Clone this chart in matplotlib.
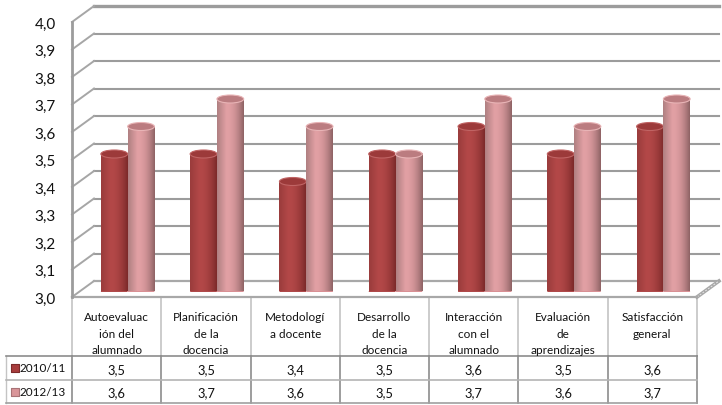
#!/usr/bin/env python3
# -*- coding: utf-8 -*-

import numpy as np
import matplotlib
matplotlib.use("Agg")
import matplotlib.pyplot as plt
from matplotlib.colors import to_rgb
from matplotlib.patches import Ellipse
from matplotlib.transforms import IdentityTransform, ScaledTranslation

categories = ["Autoevaluac\nión del\nalumnado", "Planificación\nde la\ndocencia",
              "Metodologí\na docente", "Desarrollo\nde la\ndocencia",
              "Interacción\ncon el\nalumnado", "Evaluación\nde\naprendizajes",
              "Satisfacción\ngeneral"]
series_names = ["2010/11", "2012/13"]
values_2010 = [3.5, 3.5, 3.4, 3.5, 3.6, 3.5, 3.6]
values_2012 = [3.6, 3.7, 3.6, 3.5, 3.7, 3.6, 3.7]
y_ticks = [3.0, 3.1, 3.2, 3.3, 3.4, 3.5, 3.6, 3.7, 3.8, 3.9, 4.0]

W, H = 722, 406
plt.rcParams["font.family"] = ["Lato", "DejaVu Sans"]

fig = plt.figure(figsize=(W / 100, H / 100), dpi=100)
n = len(categories)

# mid depth plane of the fake 3d box, the bars stand on this one
L, R, BOT, TOP = 83, 708, 292.5, 17.5
ax = fig.add_axes([L / W, 1 - BOT / H, (R - L) / W, (BOT - TOP) / H])
ax.axis("off")
ax.set_xlim(0, n)
ax.set_ylim(3.0, 4.0)

# overlay in pixels for the table
pix = fig.add_axes([0, 0, 1, 1], zorder=-1)
pix.set_xlim(0, W)
pix.set_ylim(H, 0)
pix.axis("off")

DX = 11
back = ax.transData + ScaledTranslation(DX / 100, 10.5 / 100, fig.dpi_scale_trans)
front = ax.transData + ScaledTranslation(-DX / 100, -5.5 / 100, fig.dpi_scale_trans)
screen = IdentityTransform()

GRID = "#9c9c9c"
for v in y_ticks:
    lw = 2.4 if v == 4.0 else 1.5
    if v != 3.0:
        ax.plot([0, n], [v, v], color=GRID, lw=lw, transform=back, clip_on=False, zorder=1)
    # side wall piece
    x0, y0 = front.transform((0, v))
    x1, y1 = back.transform((0, v))
    ax.plot([x0, x1], [y0, y1], color="#a6a6a6", lw=1.4, transform=screen, clip_on=False, zorder=1)
    ax.text(0, v, f"{v:.1f}".replace(".", ","), transform=front + ScaledTranslation(-0.16, -0.015, fig.dpi_scale_trans),
            ha="right", va="center", fontsize=11, color="#111111", clip_on=False)

# floor
ax.plot([0, n], [3.0, 3.0], color="#a8a8a8", lw=1.6, transform=back, clip_on=False, zorder=1)
ax.plot([0, n], [3.0, 3.0], color="#a8a8a8", lw=1.6, transform=front, clip_on=False, zorder=4)
ax.plot([0, 0], [3.0, 4.0], color=GRID, lw=2.0, transform=front, clip_on=False, zorder=4)
x0, y0 = front.transform((n, 3.0))
x1, y1 = back.transform((n, 3.0))
ax.plot([x0, x1], [y0, y1], color="#a8a8a8", lw=2.6, transform=screen, clip_on=False, zorder=1)
ax.plot([x0, x1], [y0, y1], color="#e6e6e6", lw=0.7, ls=(0, (2, 1.5)), transform=screen, clip_on=False, zorder=1)


def shade(left, mid, right):
    left, mid, right = map(np.array, (to_rgb(left), to_rgb(mid), to_rgb(right)))
    t = np.linspace(0, 1, 40)[:, None]
    cols = np.where(t < 0.35, left + (mid - left) * t / 0.35, mid + (right - mid) * ((t - 0.35) / 0.65) ** 2)
    return cols[None, :, :]


bar_w = 0.3
cap_h = 8.0 / (BOT - TOP)
foot_h = 6.0 / (BOT - TOP)
styles = [
    dict(grad=shade("#9a3c3c", "#b34848", "#7c2a2a"), cap="#9c3a3a", rim="#c06464", foot="#b04a4a"),
    dict(grad=shade("#b08082", "#e2a0a4", "#8f6365"), cap="#bb7c80", rim="#e8b4b6", foot="#d99094"),
]
for s, vals in enumerate([values_2010, values_2012]):
    st = styles[s]
    for i, v in enumerate(vals):
        x_l = i + 0.5 - bar_w + s * bar_w
        x_r = x_l + bar_w
        z = 5 + s + i * 0.01
        ax.add_patch(Ellipse((x_l + bar_w / 2, 3.0), bar_w, foot_h, fc=st["foot"], ec="none", zorder=z))
        ax.imshow(st["grad"], extent=[x_l, x_r, 3.0, v], aspect="auto", interpolation="bilinear", zorder=z)
        ax.add_patch(Ellipse((x_l + bar_w / 2, v), bar_w, cap_h, fc=st["cap"], ec=st["rim"], lw=0.8, zorder=z + 0.001))
# imshow moves the limits
ax.set_xlim(0, n)
ax.set_ylim(3.0, 4.0)

# table below the plot
x_table = [72 + i * (697 - 72) / n for i in range(n + 1)]
ROW0, ROW1, ROW2, ROW3 = 298, 357, 381, 404
LEFT = 6
LIGHT, DARK = "#c4c4c4", "#8c8c8c"
for i, xx in enumerate(x_table):
    pix.plot([xx, xx], [ROW0, ROW1], color=LIGHT, lw=1.2)
    pix.plot([xx, xx], [ROW1, ROW3], color=DARK, lw=1.2)
pix.plot([LEFT, LEFT], [ROW1, ROW3], color=LIGHT, lw=1)
pix.plot([LEFT, x_table[-1]], [ROW1, ROW1], color=DARK, lw=1.2)
pix.plot([LEFT, x_table[-1]], [ROW2, ROW2], color="#b4b4b4", lw=1.2)
pix.plot([LEFT, x_table[-1]], [ROW3, ROW3], color="#a0a0a0", lw=1.2)

for i, cat in enumerate(categories):
    cx = (x_table[i] + x_table[i + 1]) / 2
    pix.text(cx, 312, cat, ha="center", va="top", fontsize=8.5, linespacing=1.62, color="#111111")
    pix.text(cx, (ROW1 + ROW2) / 2 + 1, f"{values_2010[i]:.1f}".replace(".", ","),
             ha="center", va="center", fontsize=9.3, color="#111111")
    pix.text(cx, (ROW2 + ROW3) / 2 + 0.5, f"{values_2012[i]:.1f}".replace(".", ","),
             ha="center", va="center", fontsize=9.3, color="#111111")

key_cols = [("#a83c3c", "#7c2a2a"), ("#d99599", "#a87376")]
for name, yc, (fc, ec) in zip(series_names, [(ROW1 + ROW2) / 2, (ROW2 + ROW3) / 2], key_cols):
    pix.scatter([14.5], [yc], marker="s", s=34, c=fc, edgecolors=ec, linewidths=0.8)
    pix.text(20, yc, name, ha="left", va="center", fontsize=8.5, color="#111111")

fig.savefig("out.png", dpi=100)
